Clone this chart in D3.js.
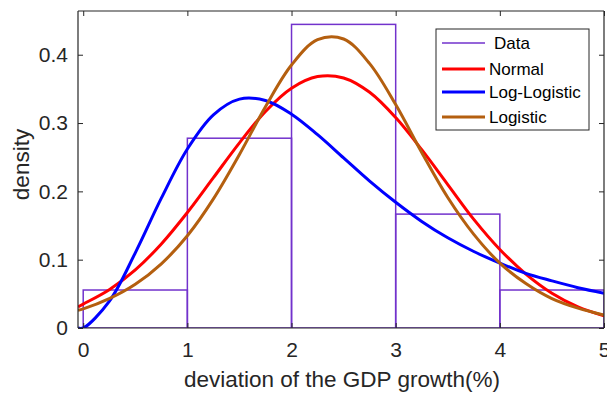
<!DOCTYPE html>
<html>
<head>
<meta charset="utf-8">
<script src="https://cdn.jsdelivr.net/npm/d3@7/dist/d3.min.js"></script>
<style>
  body { margin: 0; background: #fff; }
  text { font-family: "Liberation Sans", Arial, Helvetica, sans-serif; fill: #262626; }
</style>
</head>
<body>
<script>
// valori
const xGrid = [-0.05, 0, 0.25, 0.5, 0.75, 1, 1.25, 1.5, 1.75, 2, 2.25, 2.5,
  2.75, 3, 3.25, 3.5, 3.75, 4, 4.25, 4.5, 4.75, 5];
const normalY = [0.031, 0.035, 0.056, 0.085, 0.123, 0.169, 0.220, 0.271, 0.317,
  0.351, 0.368, 0.366, 0.345, 0.308, 0.261, 0.210, 0.159, 0.115, 0.079, 0.051, 0.031, 0.018];
const logLogisticY = [0, 0, 0.039, 0.110, 0.190, 0.262, 0.312, 0.335, 0.333,
  0.313, 0.283, 0.249, 0.215, 0.184, 0.156, 0.132, 0.112, 0.095, 0.080, 0.069, 0.059, 0.051];
const logisticY = [0.026, 0.028, 0.043, 0.064, 0.094, 0.135, 0.189, 0.254, 0.324,
  0.385, 0.422, 0.423, 0.387, 0.327, 0.257, 0.191, 0.137, 0.095, 0.065, 0.043, 0.029, 0.019];

const binEdges = [0, 1, 2, 3, 4, 5];
const binDensity = [0.0556, 0.2778, 0.4444, 0.1667, 0.0556];

const xTicks = [0, 1, 2, 3, 4, 5];
const yTicks = [0, 0.1, 0.2, 0.3, 0.4];

const seriesNames = ["Data", "Normal", "Log-Logistic", "Logistic"];
const seriesColors = ["#7232cc", "#ff0000", "#0000ff", "#b45f0f"];

const W = 607, H = 399;
const margin = { left: 78, right: 3, top: 11, bottom: 71 };

const svg = d3.select("body").append("svg")
  .attr("width", W)
  .attr("height", H);

const x = d3.scaleLinear().domain([-0.05, 5]).range([margin.left, W - margin.right]);
const y = d3.scaleLinear().domain([0, 0.464]).range([H - margin.bottom, margin.top]);

svg.append("defs").append("clipPath").attr("id", "clip")
  .append("rect")
  .attr("x", margin.left).attr("y", margin.top)
  .attr("width", W - margin.left - margin.right)
  .attr("height", H - margin.top - margin.bottom);

const plot = svg.append("g").attr("clip-path", "url(#clip)");

// istogramma (solo contorno)
plot.selectAll(".bin")
  .data(binDensity)
  .enter()
  .append("rect")
  .attr("class", "bin")
  .attr("x", (d, i) => x(binEdges[i]))
  .attr("width", (d, i) => x(binEdges[i + 1]) - x(binEdges[i]))
  .attr("y", d => y(d))
  .attr("height", d => y(0) - y(d))
  .style("fill", "none")
  .style("stroke", seriesColors[0])
  .style("stroke-width", 1.5);

// curve di densità
const line = d3.line()
  .x((d, i) => x(xGrid[i]))
  .y(d => y(d))
  .curve(d3.curveCatmullRom);

[normalY, logLogisticY, logisticY].forEach((vals, k) => {
  plot.append("path")
    .datum(vals)
    .attr("d", line)
    .style("fill", "none")
    .style("stroke", seriesColors[k + 1])
    .style("stroke-width", 3);
});

// assi (stile MATLAB, tick verso l'interno, box)
const axisColor = "#262626";
const xAxis = svg.append("g")
  .attr("transform", `translate(0,${y(0)})`)
  .call(d3.axisBottom(x).tickValues(xTicks).tickSize(-5).tickPadding(14).tickFormat(d3.format("d")));
const yAxis = svg.append("g")
  .attr("transform", `translate(${margin.left},0)`)
  .call(d3.axisLeft(y).tickValues(yTicks).tickSize(-5).tickPadding(10).tickFormat(d => d === 0 ? "0" : d3.format(".1f")(d)));
const xTop = svg.append("g")
  .attr("transform", `translate(0,${margin.top})`)
  .call(d3.axisTop(x).tickValues(xTicks).tickSize(-5).tickFormat(""));
const yRight = svg.append("g")
  .attr("transform", `translate(${W - margin.right},0)`)
  .call(d3.axisRight(y).tickValues(yTicks).tickSize(-5).tickFormat(""));

[xAxis, yAxis, xTop, yRight].forEach(g => {
  g.select(".domain").attr("stroke", axisColor).attr("stroke-width", 1.2);
  g.selectAll(".tick line").attr("stroke", axisColor);
  g.selectAll(".tick text")
    .style("font-size", "21px")
    .style("fill", axisColor)
    .attr("font-family", null);
});
xAxis.selectAll(".domain").attr("d", `M${margin.left},0H${W - margin.right}`);
yAxis.selectAll(".domain").attr("d", `M0,${y(0)}V${margin.top}`);
xTop.selectAll(".domain").attr("d", `M${margin.left},0H${W - margin.right}`);
yRight.selectAll(".domain").attr("d", `M0,${y(0)}V${margin.top}`);

// etichette assi
svg.append("text")
  .attr("x", (margin.left + W - margin.right) / 2 + 1)
  .attr("y", 387)
  .attr("text-anchor", "middle")
  .style("font-size", "22.5px")
  .text("deviation of the GDP growth(%)");

svg.append("text")
  .attr("transform", `translate(29,${(margin.top + y(0)) / 2 - 5}) rotate(-90)`)
  .attr("text-anchor", "middle")
  .style("font-size", "22.5px")
  .text("density");

// legenda
const legend = svg.append("g").attr("transform", "translate(436,29)");
legend.append("rect")
  .attr("width", 153)
  .attr("height", 101)
  .style("fill", "#fff")
  .style("stroke", axisColor)
  .style("stroke-width", 1);

const rowY = [14, 40, 63, 88];
seriesNames.forEach((name, i) => {
  legend.append("line")
    .attr("x1", 6).attr("x2", 49)
    .attr("y1", rowY[i]).attr("y2", rowY[i])
    .style("stroke", seriesColors[i])
    .style("stroke-width", i === 0 ? 1.5 : 3);
  legend.append("text")
    .attr("x", i === 0 ? 58 : 53)
    .attr("y", rowY[i])
    .attr("dy", "0.35em")
    .style("font-size", "17px")
    .style("fill", "#000")
    .text(name);
});
</script>
</body>
</html>
